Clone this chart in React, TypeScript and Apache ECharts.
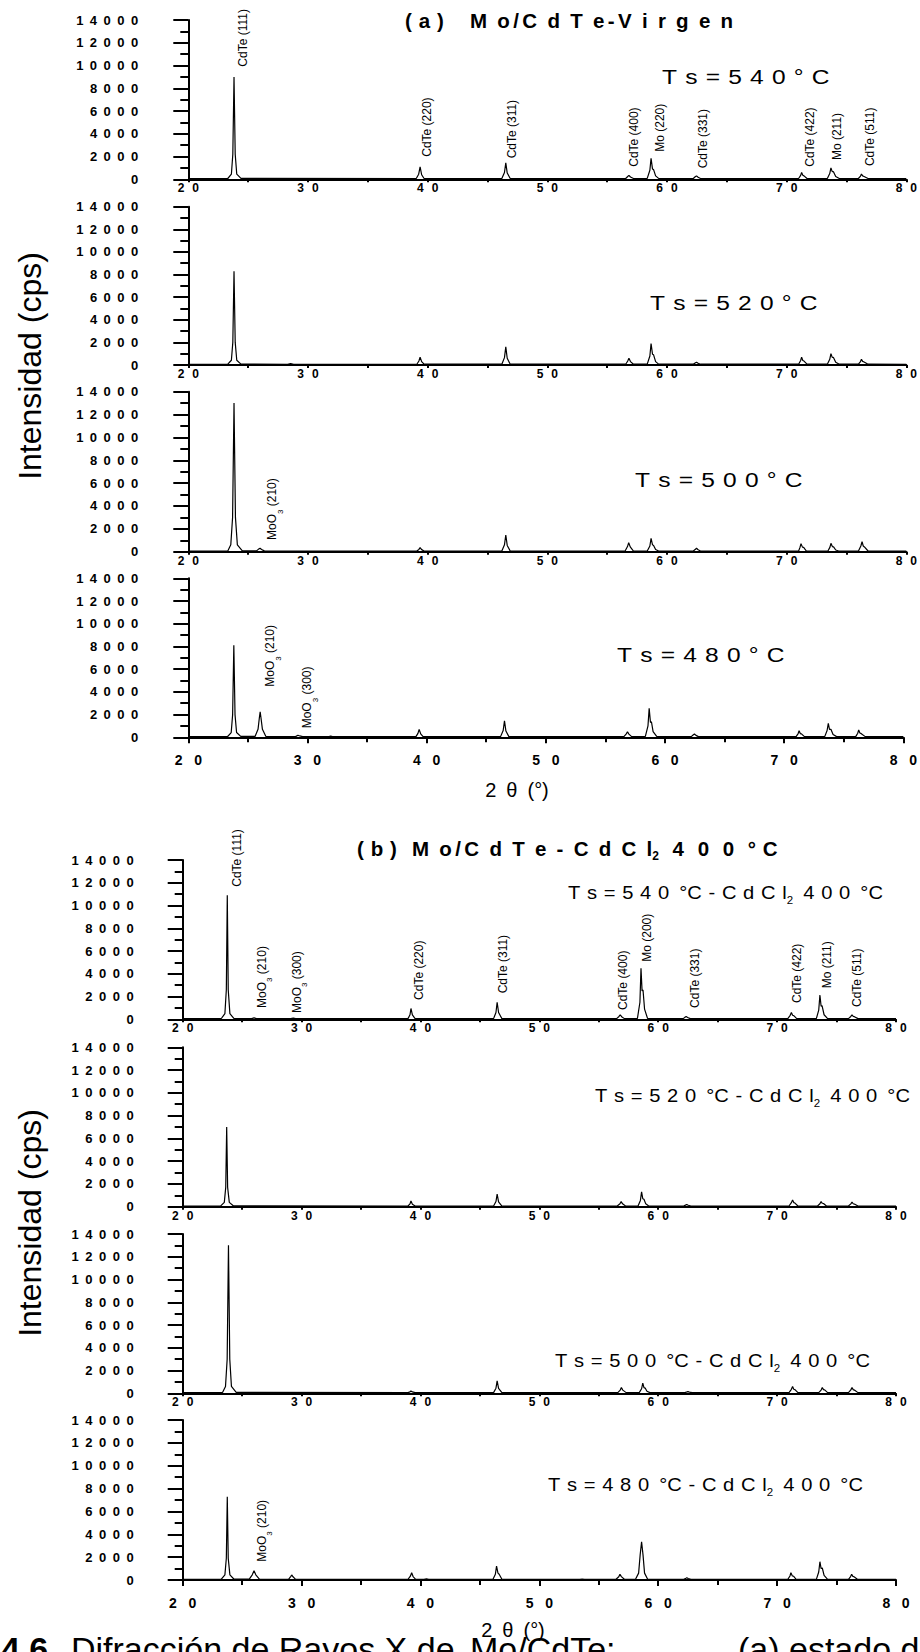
import React, { useEffect, useRef } from "react";
import * as echarts from "echarts";

type Pt = [number, number];
type PeakLabel = [string, number, number];

// ---- Diffraction profiles: [2θ (°), intensity (cps)] ----

// (a) Mo/CdTe as grown
const virgen540: Pt[] = [
  [20, 60], [23.3, 70], [23.6, 450], [23.72, 2200], [23.82, 9000], [23.92, 2200], [24.05, 450], [24.4, 80],
  [39.05, 70], [39.25, 450], [39.37, 1100], [39.5, 400], [39.7, 70],
  [46.2, 70], [46.42, 600], [46.53, 1450], [46.65, 550], [46.9, 70],
  [56.55, 70], [56.72, 250], [56.82, 350], [56.95, 200], [57.2, 70],
  [58.35, 80], [58.57, 800], [58.67, 1850], [58.79, 900], [58.88, 850], [59.05, 300], [59.3, 80],
  [62.2, 70], [62.38, 240], [62.47, 300], [62.6, 180], [62.8, 70],
  [71.0, 70], [71.17, 350], [71.25, 600], [71.35, 350], [71.45, 300], [71.7, 70],
  [73.4, 70], [73.6, 500], [73.7, 1000], [73.8, 700], [73.92, 650], [74.1, 250], [74.4, 70],
  [76.0, 70], [76.17, 280], [76.25, 460], [76.35, 300], [76.47, 250], [76.8, 70],
  [80, 60],
];

const virgen520: Pt[] = [
  [20, 60], [23.3, 70], [23.6, 420], [23.72, 2000], [23.82, 8300], [23.92, 2000], [24.05, 420], [24.4, 80],
  [28.3, 60], [28.55, 130], [28.8, 60],
  [39.1, 70], [39.27, 350], [39.37, 700], [39.5, 300], [39.7, 70],
  [46.2, 70], [46.42, 650], [46.53, 1600], [46.65, 600], [46.9, 70],
  [56.55, 70], [56.72, 350], [56.82, 600], [56.95, 300], [57.2, 70],
  [58.35, 80], [58.57, 800], [58.67, 1900], [58.79, 950], [58.88, 900], [59.05, 300], [59.3, 80],
  [62.2, 70], [62.38, 200], [62.47, 250], [62.6, 150], [62.8, 70],
  [71.0, 70], [71.17, 400], [71.25, 700], [71.35, 400], [71.45, 350], [71.7, 70],
  [73.4, 70], [73.6, 500], [73.7, 1000], [73.8, 700], [73.92, 650], [74.1, 250], [74.4, 70],
  [76.0, 70], [76.17, 300], [76.25, 500], [76.35, 320], [76.47, 270], [76.8, 70],
  [80, 60],
];

const virgen500: Pt[] = [
  [20, 60], [23.3, 70], [23.55, 600], [23.7, 3000], [23.82, 13000], [23.94, 3000], [24.1, 600], [24.5, 90],
  [25.7, 70], [25.9, 250], [26.0, 300], [26.12, 200], [26.35, 70],
  [39.1, 60], [39.27, 200], [39.37, 350], [39.5, 180], [39.7, 60],
  [46.2, 60], [46.42, 600], [46.53, 1460], [46.65, 550], [46.9, 60],
  [56.5, 60], [56.7, 450], [56.8, 790], [56.93, 420], [57.2, 60],
  [58.35, 60], [58.57, 500], [58.67, 1170], [58.79, 600], [58.88, 550], [59.05, 200], [59.3, 60],
  [62.2, 60], [62.38, 220], [62.47, 300], [62.6, 170], [62.8, 60],
  [71.0, 60], [71.12, 400], [71.2, 700], [71.32, 400], [71.42, 380], [71.65, 60],
  [73.45, 60], [73.62, 400], [73.7, 730], [73.82, 450], [73.92, 420], [74.1, 150], [74.35, 60],
  [76.0, 60], [76.2, 500], [76.3, 875], [76.4, 500], [76.5, 420], [76.8, 60],
  [80, 60],
];

const virgen480: Pt[] = [
  [20, 60], [23.3, 70], [23.6, 420], [23.72, 2000], [23.82, 8100], [23.92, 2000], [24.05, 420], [24.4, 80],
  [25.6, 80], [25.85, 700], [25.96, 1700], [26.03, 2250], [26.1, 1700], [26.22, 700], [26.5, 90],
  [29.0, 60], [29.2, 180], [29.25, 200], [29.35, 120], [29.6, 60],
  [31.8, 60], [31.95, 100], [32.1, 60],
  [39.1, 60], [39.27, 350], [39.37, 700], [39.5, 300], [39.7, 60],
  [46.2, 60], [46.42, 600], [46.53, 1460], [46.65, 550], [46.9, 60],
  [56.55, 60], [56.75, 300], [56.85, 490], [56.97, 280], [57.2, 60],
  [58.35, 80], [58.57, 1000], [58.67, 2550], [58.78, 1300], [58.86, 1370], [59.0, 500], [59.3, 80],
  [62.2, 60], [62.38, 220], [62.47, 290], [62.6, 170], [62.8, 60],
  [71.0, 60], [71.17, 330], [71.25, 580], [71.35, 330], [71.45, 300], [71.7, 60],
  [73.4, 60], [73.6, 600], [73.7, 1230], [73.8, 700], [73.92, 700], [74.1, 250], [74.4, 60],
  [76.0, 60], [76.17, 360], [76.25, 640], [76.35, 380], [76.47, 320], [76.8, 60],
  [80, 60],
];

// (b) Mo/CdTe after CdCl2 treatment at 400 °C
const cdcl540: Pt[] = [
  [20, 60], [23.25, 70], [23.55, 500], [23.67, 2600], [23.75, 10900], [23.83, 2600], [23.97, 500], [24.3, 80],
  [25.8, 60], [26.0, 130], [26.2, 60],
  [29.1, 60], [29.3, 110], [29.5, 60],
  [38.95, 60], [39.12, 400], [39.2, 950], [39.32, 380], [39.55, 60],
  [46.15, 60], [46.35, 600], [46.45, 1500], [46.57, 600], [46.85, 60],
  [56.5, 60], [56.7, 250], [56.8, 400], [56.92, 230], [57.15, 60],
  [58.25, 80], [58.46, 1500], [58.55, 4480], [58.64, 2500], [58.72, 2580], [58.85, 900], [59.1, 80],
  [62.1, 60], [62.28, 200], [62.35, 250], [62.47, 160], [62.7, 60],
  [70.9, 60], [71.1, 350], [71.2, 600], [71.3, 360], [71.4, 320], [71.65, 60],
  [73.3, 60], [73.5, 800], [73.6, 2140], [73.7, 1150], [73.78, 1200], [73.95, 400], [74.25, 60],
  [76.0, 60], [76.2, 250], [76.3, 400], [76.4, 260], [76.5, 230], [76.8, 60],
  [80, 60],
];

const cdcl520: Pt[] = [
  [20, 60], [23.2, 70], [23.5, 380], [23.62, 1700], [23.7, 7000], [23.78, 1700], [23.92, 380], [24.25, 80],
  [38.95, 60], [39.12, 250], [39.2, 500], [39.32, 220], [39.55, 60],
  [46.15, 60], [46.35, 450], [46.45, 1100], [46.57, 430], [46.85, 60],
  [56.55, 60], [56.78, 260], [56.88, 450], [57.0, 250], [57.25, 60],
  [58.3, 60], [58.5, 550], [58.6, 1300], [58.7, 700], [58.8, 650], [58.95, 250], [59.2, 60],
  [62.15, 60], [62.33, 160], [62.4, 200], [62.52, 130], [62.75, 60],
  [71.0, 60], [71.2, 350], [71.3, 600], [71.4, 360], [71.5, 320], [71.75, 60],
  [73.4, 60], [73.6, 260], [73.7, 450], [73.8, 300], [73.9, 280], [74.15, 60],
  [76.0, 60], [76.2, 250], [76.3, 400], [76.4, 260], [76.5, 230], [76.8, 60],
  [80, 60],
];

const cdcl500: Pt[] = [
  [20, 60], [23.35, 70], [23.6, 600], [23.74, 3000], [23.85, 13000], [23.96, 3000], [24.1, 600], [24.5, 90],
  [38.95, 60], [39.12, 130], [39.2, 200], [39.32, 120], [39.55, 60],
  [46.15, 60], [46.35, 450], [46.45, 1100], [46.57, 430], [46.85, 60],
  [56.6, 60], [56.8, 280], [56.9, 500], [57.02, 280], [57.3, 60],
  [58.4, 60], [58.6, 400], [58.7, 900], [58.8, 500], [58.9, 460], [59.05, 180], [59.3, 60],
  [62.25, 60], [62.42, 120], [62.5, 150], [62.62, 100], [62.85, 60],
  [71.0, 60], [71.2, 350], [71.3, 600], [71.4, 360], [71.5, 320], [71.75, 60],
  [73.5, 60], [73.7, 280], [73.8, 500], [73.9, 320], [74.0, 300], [74.25, 60],
  [76.0, 60], [76.2, 300], [76.3, 500], [76.4, 320], [76.5, 280], [76.8, 60],
  [80, 60],
];

const cdcl480: Pt[] = [
  [20, 60], [23.25, 80], [23.55, 450], [23.67, 1900], [23.75, 7280], [23.83, 1900], [23.97, 450], [24.3, 90],
  [25.6, 70], [25.85, 450], [26.0, 810], [26.15, 450], [26.45, 70],
  [28.9, 60], [29.08, 300], [29.17, 440], [29.28, 280], [29.5, 60],
  [38.95, 60], [39.15, 330], [39.26, 640], [39.38, 300], [39.6, 60],
  [40.3, 60], [40.5, 110], [40.7, 60],
  [46.1, 60], [46.3, 500], [46.4, 1220], [46.52, 600], [46.62, 500], [46.85, 60],
  [53.4, 60], [53.6, 90], [53.8, 60],
  [56.45, 60], [56.68, 280], [56.78, 500], [56.9, 300], [57.15, 60],
  [58.1, 80], [58.35, 600], [58.48, 2200], [58.6, 3350], [58.72, 2200], [58.85, 600], [59.1, 80],
  [62.15, 60], [62.33, 160], [62.4, 200], [62.52, 130], [62.75, 60],
  [70.9, 60], [71.08, 350], [71.16, 640], [71.28, 360], [71.38, 330], [71.6, 60],
  [73.3, 60], [73.5, 700], [73.6, 1600], [73.7, 1000], [73.8, 1050], [73.95, 400], [74.25, 60],
  [76.0, 60], [76.18, 300], [76.27, 500], [76.37, 320], [76.47, 280], [76.75, 60],
  [80, 60],
];

// ---- Reflection labels: [text, 2θ where the label sits, intensity where it starts] ----
const labelsA540: PeakLabel[] = [
  ["CdTe (111)", 24.53, 9900], ["CdTe (220)", 39.95, 1980], ["CdTe (311)", 47.08, 1840],
  ["CdTe (400)", 57.23, 1100], ["Mo (220)", 59.39, 2420], ["CdTe (331)", 63.0, 965],
  ["CdTe (422)", 71.95, 1100], ["Mo (211)", 74.17, 1690], ["CdTe (511)", 76.95, 1165],
];
const labelsA500: PeakLabel[] = [["MoO3 (210)", 27.03, 1020]];
const labelsA480: PeakLabel[] = [["MoO3 (210)", 26.87, 4450], ["MoO3 (300)", 30.0, 790]];
const labelsB540: PeakLabel[] = [
  ["CdTe (111)", 24.54, 11650], ["MoO3 (210)", 26.64, 1000], ["MoO3 (300)", 29.59, 550],
  ["CdTe (220)", 39.9, 1700], ["CdTe (311)", 46.91, 2280], ["CdTe (400)", 57.06, 820],
  ["Mo (200)", 59.02, 5060], ["CdTe (331)", 63.09, 1000], ["CdTe (422)", 71.64, 1430],
  ["Mo (211)", 74.16, 2720], ["CdTe (511)", 76.69, 1080],
];
const labelsB480: PeakLabel[] = [["MoO3 (210)", 26.64, 1600]];

const substrateTemps = ["540", "520", "500", "480"];
const xTicks = { min: 20, max: 80, interval: 10 };
const yTicks = { min: 0, max: 14000, interval: 2000 };

// ---- Layout of the eight stacked plots (pixels) ----
const PANELS = [
  { data: virgen540, labels: labelsA540, left: 188.3, top: 20, width: 720, height: 159.3, last: false },
  { data: virgen520, labels: [], left: 188.3, top: 206.7, width: 720, height: 158.3, last: false },
  { data: virgen500, labels: labelsA500, left: 188.3, top: 391.7, width: 720, height: 160, last: false },
  { data: virgen480, labels: labelsA480, left: 188.3, top: 578.3, width: 720, height: 159, last: true },
  { data: cdcl540, labels: labelsB540, left: 182.7, top: 860, width: 713.3, height: 159.3, last: false },
  { data: cdcl520, labels: [], left: 182.7, top: 1047.3, width: 713.3, height: 159.4, last: false },
  { data: cdcl500, labels: [], left: 182.7, top: 1234, width: 713.3, height: 159.3, last: false },
  { data: cdcl480, labels: labelsB480, left: 182.7, top: 1420, width: 713.3, height: 160, last: true },
];

const FONT = "Arial, 'Liberation Sans', Helvetica, sans-serif";
const EN = "\u2002"; // 1/2 em
const S3 = "\u2004"; // 1/3 em
const S6 = "\u2006"; // 1/6 em
const spread = (s: string, gap: string) => Array.from(s).join(gap);

function buildOption(): echarts.EChartsOption {
  const black = "#000";
  return {
    animation: false,
    backgroundColor: "#fff",
    grid: PANELS.map((p) => ({ left: p.left, top: p.top, width: p.width, height: p.height })),
    xAxis: PANELS.map((p, i) => ({
      type: "value",
      gridIndex: i,
      ...xTicks,
      axisLine: { onZero: false, lineStyle: { color: black, width: 2 } },
      axisTick: { length: p.last ? 6 : 3, lineStyle: { color: black, width: 2 } },
      minorTick: { show: true, splitNumber: 2, length: p.last ? 5 : 3, lineStyle: { color: black, width: 2 } },
      splitLine: { show: false },
      axisLabel: {
        formatter: (v: number) => spread(String(v), p.last ? EN + S3 : EN + S6),
        fontFamily: FONT,
        fontWeight: "bold",
        fontSize: p.last ? 14 : 12,
        color: black,
        margin: p.last ? 16 : 3,
      },
    })),
    yAxis: PANELS.map((p, i) => ({
      type: "value",
      gridIndex: i,
      ...yTicks,
      axisLine: { onZero: false, lineStyle: { color: black, width: 2 } },
      axisTick: { length: 15, lineStyle: { color: black, width: 2 } },
      minorTick: { show: true, splitNumber: 2, length: 8, lineStyle: { color: black, width: 2 } },
      splitLine: { show: false },
      axisLabel: {
        formatter: (v: number) => spread(String(v), EN),
        fontFamily: FONT,
        fontWeight: "bold",
        fontSize: 13,
        color: black,
        margin: i < 4 ? 50 : 49,
      },
    })),
    series: PANELS.map((p, i) => ({
      type: "line",
      xAxisIndex: i,
      yAxisIndex: i,
      data: p.data,
      showSymbol: false,
      symbol: "none",
      lineStyle: { color: black, width: 1.2 },
      silent: true,
    })),
  };
}

function peakText(name: string) {
  const m = name.match(/^MoO3 (.*)$/);
  return m ? `{n|MoO}{s|3}{n| ${m[1]}}` : `{n|${name}}`;
}

function buildGraphics(chart: echarts.ECharts) {
  const g: any[] = [];
  const text = (x: number, y: number, t: string, style: any, extra: any = {}) =>
    g.push({ type: "text", x, y, silent: true, ...extra, style: { text: t, fill: "#000", fontFamily: FONT, ...style } });

  // reflection labels, anchored through each plot's own axes
  PANELS.forEach((p, i) => {
    p.labels.forEach(([name, x, y]) => {
      const [px, py] = chart.convertToPixel({ gridIndex: i }, [x, y]) as number[];
      const sub = name.startsWith("MoO3");
      text(px, py, peakText(name), {
        align: "left",
        verticalAlign: "middle",
        rich: {
          n: { fontSize: 12, lineHeight: sub ? 24 : 14, fontFamily: FONT, fill: "#000" },
          s: { fontSize: 8, lineHeight: 8, verticalAlign: "bottom", fontFamily: FONT, fill: "#000" },
        },
      }, { rotation: Math.PI / 2 });
    });
  });

  // panel titles (letter-spaced)
  const titleRich = {
    t: { fontSize: 20.5, fontWeight: "bold", lineHeight: 28, fontFamily: FONT, fill: "#000" },
    s: { fontSize: 12, fontWeight: "bold", lineHeight: 12, verticalAlign: "bottom", fontFamily: FONT, fill: "#000" },
  };
  const titleStyle = { align: "left", verticalAlign: "middle", rich: titleRich };
  text(405, 20, `{t|${spread("(a)", S3)}}`, titleStyle);
  text(470, 20, `{t|M${EN}o${S6}/${S6}C${EN}d${EN}T${EN}e${S6}-${S6}${spread("Virgen", EN)}}`, titleStyle);
  text(357, 848, `{t|${spread("(b)", S3)}}`, titleStyle);
  text(
    412, 848,
    `{t|M${EN}o${S6}/${S6}${spread("CdTe-CdCl", EN)}}{s|2}{t|${EN}${S6}${spread("400", EN + S6)}${EN}${S6}°${S3}C}`,
    titleStyle
  );

  // substrate temperatures, panel (a)
  const tsA: [number, number][] = [[662, 77], [650, 303], [635, 480], [617, 655]];
  tsA.forEach(([x, y], k) =>
    text(x, y, spread(`Ts=${substrateTemps[k]}°C`, S3), { fontSize: 21, align: "left", verticalAlign: "middle" }, { scaleX: 1.17 })
  );

  // substrate temperatures with CdCl2 treatment, panel (b)
  const tsRich = {
    t: { fontSize: 17.5, lineHeight: 24, fontFamily: FONT, fill: "#000" },
    s: { fontSize: 10, lineHeight: 10, verticalAlign: "bottom", fontFamily: FONT, fill: "#000" },
  };
  const tsB: [number, number][] = [[568, 893], [595, 1096], [555, 1361], [548, 1485]];
  tsB.forEach(([x, y], k) =>
    text(
      x, y,
      `{t|${spread(`Ts=${substrateTemps[k]}`, S3)}${EN}°C${S3}-${S3}${spread("CdCl", S3)}}{s|2}{t|${EN}${spread("400", S3)}${EN}°C}`,
      { align: "left", verticalAlign: "middle", rich: tsRich },
      { scaleX: 1.15 }
    )
  );

  // axis names
  [366, 1223].forEach((cy) =>
    text(30, cy, "Intensidad (cps)", { fontSize: 32, align: "center", verticalAlign: "middle" }, { rotation: Math.PI / 2 })
  );
  [[517, 790], [513, 1630]].forEach(([cx, cy]) =>
    text(cx, cy, `2${EN}θ${EN}(°)`, { fontSize: 20, align: "center", verticalAlign: "middle" })
  );

  // figure caption running off the bottom edge
  const capRich = {
    b: { fontSize: 34, fontWeight: "bold", fontFamily: FONT, fill: "#000" },
    r: { fontSize: 34, fontFamily: FONT, fill: "#000" },
  };
  text(1, 1632, `{b|4.6}{r|${EN}${S6}Difracción de Rayos X de}`, { align: "left", verticalAlign: "top", rich: capRich });
  text(470, 1632, "{r|Mo/CdTe:}", { align: "left", verticalAlign: "top", rich: capRich });
  text(738, 1632, "{r|(a) estado de}", { align: "left", verticalAlign: "top", rich: capRich });

  return g;
}

export default function App() {
  const ref = useRef<HTMLDivElement>(null);
  useEffect(() => {
    document.body.style.margin = "0";
    const chart = echarts.init(ref.current!, undefined, { renderer: "svg" });
    chart.setOption(buildOption());
    chart.setOption({ graphic: buildGraphics(chart) });
    return () => chart.dispose();
  }, []);
  return (
    <div
      ref={ref}
      style={{ position: "absolute", left: 0, top: 0, width: 920, height: 1652, background: "#fff" }}
    />
  );
}
